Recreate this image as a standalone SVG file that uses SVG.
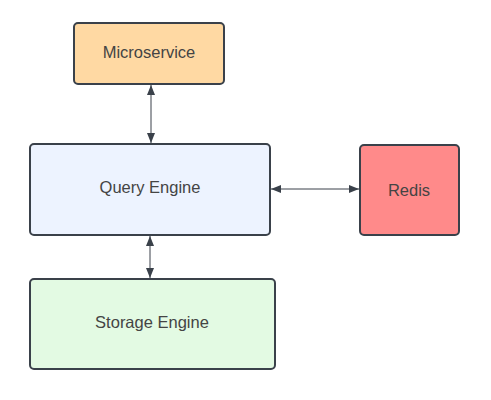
<svg xmlns="http://www.w3.org/2000/svg" width="491" height="400" viewBox="0 0 491 400">
<style>
.box{stroke:#3a414a;stroke-width:2}
.lbl{font-family:"Liberation Sans",Arial,sans-serif;font-size:16.5px;fill:#444444;text-anchor:middle;dominant-baseline:central}
.edge{stroke:#3a414a;stroke-width:1;fill:none;marker-start:url(#ah);marker-end:url(#ah)}
</style>
<defs>
<marker id="ah" viewBox="0 0 10 10" refX="10" refY="5" markerWidth="10" markerHeight="10" markerUnits="userSpaceOnUse" orient="auto-start-reverse">
<path d="M0,1 L10,5 L0,9 z" fill="#3a414a"/>
</marker>
</defs>
<rect width="491" height="400" fill="#ffffff"/>
<g id="connectors">
<line class="edge" x1="151" y1="85" x2="151" y2="143"/>
<line class="edge" x1="150" y1="236" x2="150" y2="278"/>
<line class="edge" x1="271" y1="189" x2="359" y2="189"/>
</g>
<g id="microservice">
<rect class="box" x="74" y="23" width="150" height="61" rx="4" fill="#ffd9a3"/>
<text class="lbl" x="149" y="52">Microservice</text>
</g>
<g id="query-engine">
<rect class="box" x="30" y="144" width="240" height="91" rx="4" fill="#edf3ff"/>
<text class="lbl" x="150" y="187">Query Engine</text>
</g>
<g id="redis">
<rect class="box" x="360" y="145" width="99" height="90" rx="4" fill="#ff8a8a"/>
<text class="lbl" x="409" y="190">Redis</text>
</g>
<g id="storage-engine">
<rect class="box" x="30" y="279" width="245" height="90" rx="4" fill="#e3fae3"/>
<text class="lbl" x="152" y="322">Storage Engine</text>
</g>
</svg>
